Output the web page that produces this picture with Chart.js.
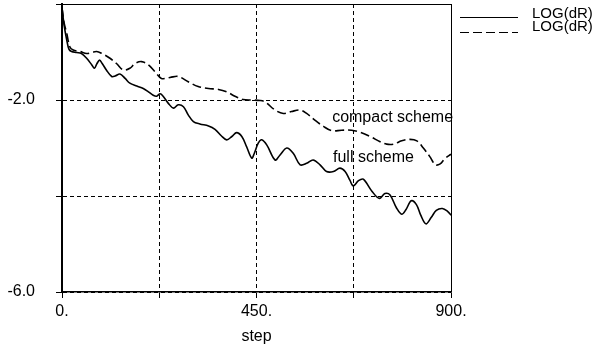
<!DOCTYPE html>
<html>
<head>
<meta charset="utf-8">
<script src="https://cdn.jsdelivr.net/npm/chart.js@4"></script>
<style>
  body { margin: 0; background: #fff; }
  #wrap { width: 598px; height: 349px; }
</style>
</head>
<body>
<div id="wrap"><canvas id="residChart"></canvas></div>
<script>
// values
const fullSteps = [0, 5, 11, 16, 22, 34, 45, 57, 69, 75, 81, 87, 93, 103, 115, 123, 134, 146, 157, 173, 188, 200, 211, 219, 227, 234, 246, 258, 269, 281, 292, 304, 319, 339, 354, 369, 381, 393, 404, 416, 427, 439, 445, 454, 462, 474, 493, 504, 520, 535, 551, 566, 581, 597, 612, 628, 643, 655, 666, 674, 686, 697, 717, 734, 747, 759, 774, 786, 796, 808, 820, 830, 842, 854, 866, 880, 892, 900];
const fullLog = [-0.08, -0.45, -0.75, -0.94, -0.99, -1.01, -1.03, -1.13, -1.27, -1.34, -1.24, -1.17, -1.24, -1.38, -1.51, -1.50, -1.46, -1.55, -1.65, -1.71, -1.76, -1.83, -1.90, -1.92, -1.87, -1.92, -2.07, -2.17, -2.10, -2.14, -2.31, -2.45, -2.50, -2.54, -2.61, -2.75, -2.83, -2.76, -2.68, -2.76, -2.97, -3.21, -3.11, -2.90, -2.83, -2.94, -3.25, -3.15, -3.00, -3.11, -3.35, -3.32, -3.25, -3.35, -3.49, -3.49, -3.42, -3.49, -3.67, -3.79, -3.68, -3.65, -3.90, -4.05, -3.95, -3.98, -4.25, -4.38, -4.28, -4.10, -4.18, -4.40, -4.58, -4.45, -4.30, -4.26, -4.32, -4.40];

const compactSteps = [0, 5, 11, 18, 26, 42, 57, 69, 80, 92, 111, 126, 142, 157, 169, 184, 200, 215, 230, 250, 269, 292, 315, 339, 362, 381, 400, 419, 439, 458, 470, 493, 512, 531, 551, 566, 585, 605, 624, 647, 670, 689, 713, 736, 751, 767, 786, 805, 821, 836, 851, 864, 875, 886, 900];
const compactLog = [-0.08, -0.40, -0.61, -0.89, -0.96, -0.99, -1.03, -1.01, -0.99, -1.03, -1.13, -1.24, -1.375, -1.34, -1.24, -1.20, -1.27, -1.41, -1.55, -1.53, -1.51, -1.62, -1.72, -1.76, -1.78, -1.83, -1.92, -1.99, -2.00, -2.01, -2.04, -2.21, -2.28, -2.24, -2.21, -2.28, -2.42, -2.55, -2.64, -2.63, -2.63, -2.67, -2.76, -2.87, -2.92, -2.92, -2.85, -2.82, -2.85, -3.00, -3.18, -3.35, -3.33, -3.22, -3.13];

const seriesNames = ['LOG(dR)', 'LOG(dR)'];
const xTicks = [0, 225, 450, 675, 900];
const xTickLabels = ['0.', '', '450.', '', '900.'];
const yTicks = [-6, -4, -2, 0];
const yTickLabels = ['-6.0', '', '-2.0', ''];
const noteTexts = ['compact scheme', 'full scheme'];

const FONT = { family: '"Liberation Sans", Arial, sans-serif', size: 16 };

function pairs(xs, ys) {
    return xs.map((x, i) => ({ x: x, y: ys[i] }));
}

// frame, legend and curve labels
const extras = {
    id: 'extras',
    afterDraw(chart) {
        const c = chart.ctx;
        const a = chart.chartArea;
        const xs = chart.scales.x, ys = chart.scales.y;
        c.save();
        c.strokeStyle = '#000';
        c.lineWidth = 1;
        c.beginPath();
        c.moveTo(a.left, a.top + 0.5);
        c.lineTo(a.right + 0.5, a.top + 0.5);
        c.lineTo(a.right + 0.5, a.bottom);
        c.stroke();

        c.fillStyle = '#000';
        c.textBaseline = 'middle';
        c.font = '15px ' + FONT.family;
        chart.data.datasets.forEach((ds, i) => {
            c.lineWidth = 1.2;
            c.setLineDash(ds.borderDash || []);
            c.beginPath();
            c.moveTo(460, 17.5 + i * 15);
            c.lineTo(518, 17.5 + i * 15);
            c.stroke();
            c.setLineDash([]);
            c.fillText(ds.label, 532, 14 + i * 13);
        });

        c.font = FONT.size + 'px ' + FONT.family;
        c.fillText(noteTexts[0], xs.getPixelForValue(625), ys.getPixelForValue(-2.36));
        c.fillText(noteTexts[1], xs.getPixelForValue(627), ys.getPixelForValue(-3.19));
        c.restore();
    }
};

const ctx = document.getElementById('residChart').getContext('2d');
new Chart(ctx, {
    type: 'line',
    data: {
        datasets: [
            {
                label: seriesNames[0],
                data: pairs(fullSteps, fullLog),
                borderColor: '#000',
                borderWidth: 1.6,
                pointRadius: 0,
                tension: 0.35
            },
            {
                label: seriesNames[1],
                data: pairs(compactSteps, compactLog),
                borderColor: '#000',
                borderWidth: 1.6,
                borderDash: [9, 4],
                pointRadius: 0,
                tension: 0.35
            }
        ]
    },
    options: {
        responsive: true,
        maintainAspectRatio: false,
        animation: false,
        layout: { padding: { left: 0, right: 147, top: 4, bottom: 0 } },
        plugins: { legend: { display: false }, tooltip: { enabled: false } },
        scales: {
            x: {
                type: 'linear',
                min: 0,
                max: 900,
                afterBuildTicks(scale) { scale.ticks = xTicks.map(v => ({ value: v })); },
                afterFit(scale) { scale.height = 57; scale.paddingLeft = 0; scale.paddingRight = 0; },
                ticks: {
                    color: '#000',
                    font: FONT,
                    padding: 4,
                    maxRotation: 0,
                    autoSkip: false,
                    callback: (v) => xTickLabels[xTicks.indexOf(v)]
                },
                grid: { color: '#000', lineWidth: 1, tickLength: 6, tickColor: '#000' },
                border: { color: '#000', width: 1.5, dash: [4, 3] },
                title: { display: true, text: 'step', color: '#000', font: FONT, padding: { top: 0, bottom: 3 } }
            },
            y: {
                type: 'linear',
                min: -6,
                max: 0,
                afterBuildTicks(scale) { scale.ticks = yTicks.map(v => ({ value: v })); },
                afterFit(scale) { scale.width = 62; scale.paddingTop = 0; scale.paddingBottom = 0; },
                ticks: {
                    color: '#000',
                    font: FONT,
                    padding: 21,
                    autoSkip: false,
                    callback: (v) => yTickLabels[yTicks.indexOf(v)]
                },
                grid: { color: '#000', lineWidth: 1, tickLength: 6, tickColor: '#000' },
                border: { color: '#000', width: 2, dash: [4, 3] }
            }
        }
    },
    plugins: [extras]
});
</script>
</body>
</html>
